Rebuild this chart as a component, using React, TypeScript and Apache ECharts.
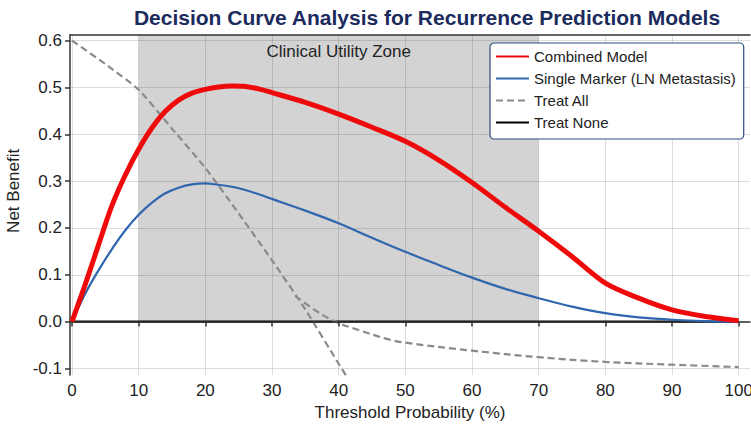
import React, { useEffect, useRef } from "react";
import * as echarts from "echarts";

const titleText = "Decision Curve Analysis for Recurrence Prediction Models";
const xTicks = [0, 10, 20, 30, 40, 50, 60, 70, 80, 90, 100];
const yTicks = [-0.1, 0, 0.1, 0.2, 0.3, 0.4, 0.5, 0.6];
const zoneStart = 10;
const zoneEnd = 70;
const zoneLabel = "Clinical Utility Zone";

const thresholds = [0, 2, 4, 6, 8, 10, 12, 14, 16, 18, 20, 22, 24, 26, 28, 30, 35, 40, 45, 50, 55, 60, 65, 70, 75, 80, 85, 90, 95, 100];
const combined = [0, 0.08, 0.165, 0.248, 0.313, 0.368, 0.414, 0.449, 0.473, 0.488, 0.496, 0.501, 0.503, 0.502, 0.497, 0.489, 0.468, 0.443, 0.415, 0.385, 0.345, 0.297, 0.244, 0.193, 0.139, 0.082, 0.05, 0.025, 0.011, 0.002];
const single = [0, 0.06, 0.11, 0.155, 0.195, 0.228, 0.254, 0.274, 0.286, 0.293, 0.295, 0.292, 0.288, 0.281, 0.272, 0.262, 0.237, 0.21, 0.179, 0.149, 0.121, 0.094, 0.07, 0.05, 0.032, 0.018, 0.009, 0.004, 0.001, 0];

const treatAllX = [0, 5, 10, 15, 20, 25, 30, 35, 40, 42];
const treatAllY = [0.6, 0.55, 0.495, 0.412, 0.328, 0.231, 0.131, 0.026, -0.09, -0.135];
const treatAllTailX = [33.5, 36.5, 39.5, 43, 47.5, 50, 60, 70, 80, 90, 100];
const treatAllTailY = [0.055, 0.024, 0, -0.018, -0.038, -0.045, -0.062, -0.076, -0.086, -0.092, -0.097];

const treatNoneX = [0, 100];
const treatNoneY = [0, 0];

const xMin = -0.3;
const xMax = 101.7;
const yMin = -0.114;
const yMax = 0.612;

const zip = (xs: number[], ys: number[]) => xs.map((x, i) => [x, ys[i]]);

export default function App() {
  const ref = useRef<HTMLDivElement>(null);
  useEffect(() => {
    document.body.style.margin = "0";
    if (!ref.current) return;
    const chart = echarts.init(ref.current, undefined, { renderer: "svg" });
    const font = "Liberation Sans, Arial, sans-serif";
    const axisLineStyle = { color: "#333", width: 1.5 };
    chart.setOption({
      animation: false,
      backgroundColor: "#fff",
      textStyle: { fontFamily: font },
      title: {
        text: titleText,
        left: 427,
        top: 7,
        textAlign: "center",
        padding: 0,
        textStyle: { fontSize: 21, fontWeight: "bold", color: "#1b2b5c", fontFamily: font },
      },
      grid: { left: 70, right: 1, top: 35, bottom: 49, containLabel: false, outerBoundsMode: "none" },
      legend: {
        data: ["Combined Model", "Single Marker (LN Metastasis)", "Treat All", "Treat None"],
        orient: "vertical",
        left: 490,
        top: 43,
        itemWidth: 33,
        itemHeight: 14,
        itemGap: 7,
        padding: [6, 8, 9, 5],
        borderColor: "#2b4f81",
        borderWidth: 1.2,
        borderRadius: 4,
        backgroundColor: "#fff",
        itemStyle: { opacity: 0 },
        textStyle: { fontSize: 15, color: "#222", fontFamily: font },
      },
      xAxis: [
        {
          type: "value",
          min: xMin,
          max: xMax,
          name: "Threshold Probability (%)",
          nameLocation: "middle",
          nameGap: 27,
          nameTextStyle: { fontSize: 17, color: "#222" },
          axisLine: { show: true, lineStyle: axisLineStyle },
          axisTick: { show: true, customValues: xTicks, length: 5, lineStyle: axisLineStyle },
          axisLabel: { customValues: xTicks, fontSize: 17, color: "#222", margin: 7 },
          splitLine: { show: false },
          z: 4,
        },
        {
          type: "value",
          position: "top",
          min: xMin,
          max: xMax,
          axisLine: { show: true, onZero: false, lineStyle: axisLineStyle },
          axisTick: { show: false },
          axisLabel: { show: false },
          splitLine: { show: false },
          z: 4,
        },
      ],
      yAxis: {
        type: "value",
        min: yMin,
        max: yMax,
        name: "\u00a0\u00a0\u00a0\u00a0\u00a0\u00a0Net Benefit",
        nameLocation: "middle",
        nameGap: 45,
        nameTextStyle: { fontSize: 17, color: "#222" },
        axisLine: { show: true, onZero: false, lineStyle: axisLineStyle },
        axisTick: { show: true, customValues: yTicks, length: 5, lineStyle: axisLineStyle },
        axisLabel: {
          customValues: yTicks,
          fontSize: 17,
          color: "#222",
          margin: 8,
          formatter: (v: number) => v.toFixed(1),
        },
        splitLine: { show: false },
        z: 4,
      },
      series: [
        {
          name: "_zone",
          type: "line",
          data: [[zoneStart, 0]],
          symbol: "none",
          lineStyle: { opacity: 0 },
          silent: true,
          markArea: {
            silent: true,
            itemStyle: { color: "#d3d3d3" },
            label: {
              show: true,
              position: "insideTop",
              distance: 8,
              fontSize: 17,
              color: "#222",
              fontFamily: font,
            },
            data: [[{ name: zoneLabel, xAxis: zoneStart, yAxis: 0 }, { xAxis: zoneEnd, yAxis: yMax }]],
          },
        },
        {
          name: "_grid",
          type: "line",
          data: [[0, 0]],
          symbol: "none",
          lineStyle: { opacity: 0 },
          silent: true,
          markLine: {
            silent: true,
            z: 1.5,
            symbol: "none",
            label: { show: false },
            lineStyle: { color: "rgba(0,0,0,0.13)", width: 1, type: "solid" },
            data: [...xTicks.map((x) => ({ xAxis: x })), ...yTicks.map((y) => ({ yAxis: y }))],
          },
        },
        {
          name: "Treat None",
          type: "line",
          data: zip(treatNoneX, treatNoneY),
          symbol: "none",
          lineStyle: { color: "#000", width: 2.2 },
          itemStyle: { color: "#000" },
          z: 3,
        },
        {
          name: "Treat All",
          type: "line",
          data: zip(treatAllX, treatAllY),
          symbol: "none",
          smooth: 0.2,
          lineStyle: { color: "#8a8a8a", width: 2.2, type: [7, 4] },
          itemStyle: { color: "#8a8a8a" },
          z: 3,
        },
        {
          name: "Treat All",
          type: "line",
          data: zip(treatAllTailX, treatAllTailY),
          symbol: "none",
          smooth: 0.4,
          lineStyle: { color: "#8a8a8a", width: 2.2, type: [7, 4] },
          itemStyle: { color: "#8a8a8a" },
          z: 3,
        },
        {
          name: "Single Marker (LN Metastasis)",
          type: "line",
          data: zip(thresholds, single),
          symbol: "none",
          smooth: 0.4,
          lineStyle: { color: "#2f66ad", width: 2.2 },
          itemStyle: { color: "#2f66ad" },
          z: 4,
        },
        {
          name: "Combined Model",
          type: "line",
          data: zip(thresholds, combined),
          symbol: "none",
          smooth: 0.3,
          lineStyle: { color: "#ee0a0a", width: 5 },
          itemStyle: { color: "#ee0a0a" },
          z: 5,
        },
      ],
    });
    return () => chart.dispose();
  }, []);
  return <div ref={ref} style={{ width: 751, height: 424 }} />;
}
